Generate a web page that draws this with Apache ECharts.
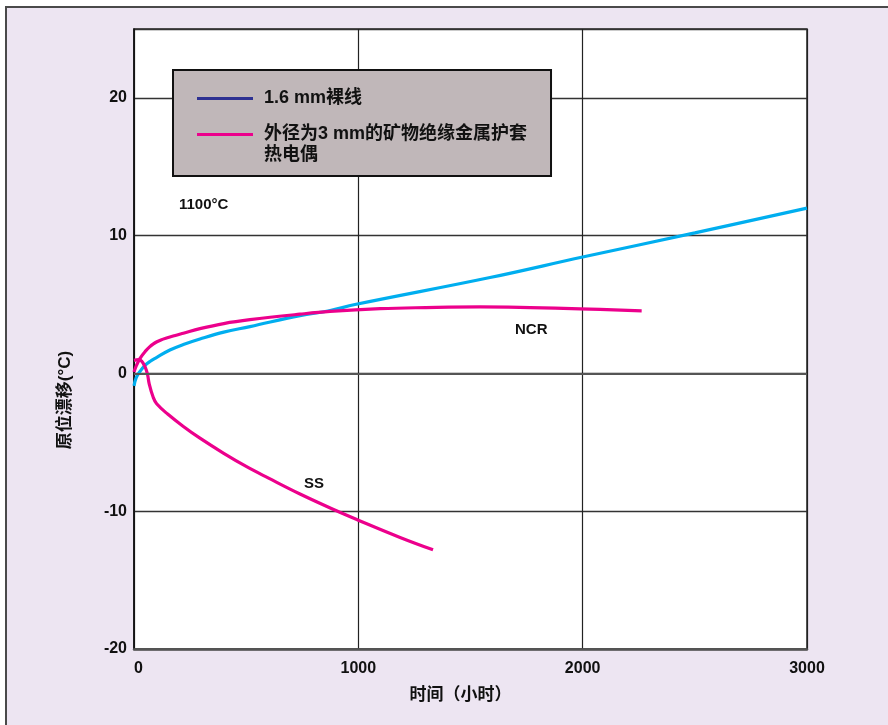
<!DOCTYPE html>
<html>
<head>
<meta charset="utf-8">
<script src="https://cdn.jsdelivr.net/npm/echarts@6/dist/echarts.min.js"></script>
<style>
  html, body { margin: 0; padding: 0; background: #fff; }
  #chart { width: 888px; height: 725px; }
</style>
</head>
<body>
<div id="chart"></div>
<script>
// 1.6 mm bare wire (cyan line)
const bareHours = [0, 10, 27, 50, 71, 100, 160, 220, 294, 400, 517, 740, 870, 985, 1587, 2000, 2500, 3000];
const bareDrift = [-0.9, -0.3, 0.15, 0.6, 0.87, 1.15, 1.7, 2.1, 2.5, 3.0, 3.4, 4.2, 4.55, 5.0, 6.96, 8.45, 10.2, 12.0];

// 3 mm MI sheathed thermocouple, NCR sheath
const ncrHours = [0, 10, 27, 50, 71, 85, 100, 120, 145, 180, 220, 294, 400, 517, 740, 874, 1097, 1300, 1543, 1766, 1988, 2263];
const ncrDrift = [0.1, 0.55, 1.1, 1.6, 1.95, 2.13, 2.28, 2.43, 2.57, 2.74, 2.92, 3.25, 3.62, 3.9, 4.3, 4.5, 4.7, 4.78, 4.83, 4.78, 4.69, 4.54];

// 3 mm MI sheathed thermocouple, SS sheath
const ssHours = [0, 20, 34, 49, 60, 68, 86, 101, 150, 220, 294, 400, 500, 600, 740, 900, 1000, 1186, 1333];
const ssDrift = [0.95, 1.0, 0.9, 0.5, -0.05, -0.78, -1.75, -2.2, -2.95, -3.85, -4.7, -5.8, -6.75, -7.6, -8.75, -9.95, -10.65, -11.9, -12.8];

const zeroLine = [0];

const nameBare = '1.6 mm裸线';
const nameMI = '外径为3 mm的矿物绝缘金属护套热电偶';

const zip = (xs, ys) => xs.map((x, i) => [x, ys[i]]);
const FONT = '"Liberation Sans", "Noto Sans CJK SC", sans-serif';

const chart = echarts.init(document.getElementById('chart'), null, { renderer: 'canvas' });

const option = {
  animation: false,
  backgroundColor: '#fff',
  textStyle: { fontFamily: FONT },
  graphic: {
    elements: [
      {
        type: 'rect', z: -10, silent: true,
        shape: { x: 6, y: 7, width: 1000, height: 1000 },
        style: { fill: '#ede5f2', stroke: '#4a4a4a', lineWidth: 2 }
      },
      {
        type: 'text', z: 100, left: 179, top: 197,
        style: { text: '1100°C', font: 'bold 15px ' + FONT, fill: '#111' }
      },
      {
        type: 'text', z: 100, left: 515, top: 322,
        style: { text: 'NCR', font: 'bold 15px ' + FONT, fill: '#111' }
      },
      {
        type: 'text', z: 100, left: 304, top: 476,
        style: { text: 'SS', font: 'bold 15px ' + FONT, fill: '#111' }
      }
    ]
  },
  legend: {
    left: 173,
    top: 70,
    orient: 'vertical',
    backgroundColor: '#c0b7b9',
    borderColor: '#111',
    borderWidth: 2,
    padding: [18, 24, 10, 24],
    icon: 'rect',
    itemWidth: 56,
    itemHeight: 3,
    itemGap: -6,
    textStyle: {
      fontSize: 18, fontWeight: 'bold', color: '#111', lineHeight: 21,
      padding: [0, 0, 0, 6], fontFamily: FONT
    },
    formatter: (name) => name === nameMI ? '\n外径为3 mm的矿物绝缘金属护套\n热电偶' : name,
    data: [
      { name: nameBare, itemStyle: { color: '#2e3192' } },
      { name: nameMI, itemStyle: { color: '#ec008c' } }
    ]
  },
  grid: {
    left: 134, right: 81, top: 29, bottom: 76,
    show: true,
    backgroundColor: '#fff',
    borderColor: '#222',
    borderWidth: 1.5
  },
  xAxis: {
    type: 'value',
    min: 0, max: 3000, interval: 1000,
    name: '时间（小时）',
    nameLocation: 'middle',
    nameGap: 38,
    nameTextStyle: { fontSize: 17, fontWeight: 'bold', color: '#111', padding: [0, 20, 0, 0], fontFamily: FONT },
    axisLine: { show: true, onZero: false, lineStyle: { color: '#555', width: 2.5 } },
    axisTick: { show: false },
    splitLine: { show: true, lineStyle: { color: '#222', width: 1.2 } },
    axisLabel: {
      fontSize: 16, fontWeight: 'bold', color: '#111', margin: 12,
      alignMinLabel: 'left', fontFamily: FONT,
      formatter: (v) => String(v)
    }
  },
  yAxis: {
    type: 'value',
    min: -20, max: 25, interval: 10,
    name: '原位漂移(°C)',
    nameLocation: 'middle',
    nameGap: 60,
    nameTextStyle: { fontSize: 17, fontWeight: 'bold', color: '#111', padding: [0, 122, 0, 0], fontFamily: FONT },
    axisLine: { show: true, onZero: false, lineStyle: { color: '#111', width: 1.5 } },
    axisTick: { show: false },
    splitLine: { show: true, lineStyle: { color: '#333', width: 1.3 } },
    axisLabel: { fontSize: 16, fontWeight: 'bold', color: '#111', margin: 7, showMaxLabel: false, fontFamily: FONT }
  },
  series: [
    {
      name: nameBare,
      type: 'line',
      smooth: 0.4,
      symbol: 'none',
      lineStyle: { color: '#00aeef', width: 3.2 },
      itemStyle: { color: '#00aeef' },
      markLine: {
        silent: true,
        symbol: 'none',
        label: { show: false },
        lineStyle: { color: '#555', width: 2.2, type: 'solid' },
        data: zeroLine.map((y) => ({ yAxis: y }))
      },
      z: 3,
      data: zip(bareHours, bareDrift)
    },
    {
      name: nameMI,
      type: 'line',
      smooth: 0.4,
      symbol: 'none',
      lineStyle: { color: '#ec008c', width: 3.2 },
      itemStyle: { color: '#ec008c' },
      z: 4,
      data: zip(ncrHours, ncrDrift)
    },
    {
      name: nameMI,
      type: 'line',
      smooth: 0.4,
      symbol: 'none',
      lineStyle: { color: '#ec008c', width: 3.2 },
      itemStyle: { color: '#ec008c' },
      z: 4,
      data: zip(ssHours, ssDrift)
    }
  ]
};

chart.setOption(option);
window.addEventListener('resize', chart.resize);
</script>
</body>
</html>
